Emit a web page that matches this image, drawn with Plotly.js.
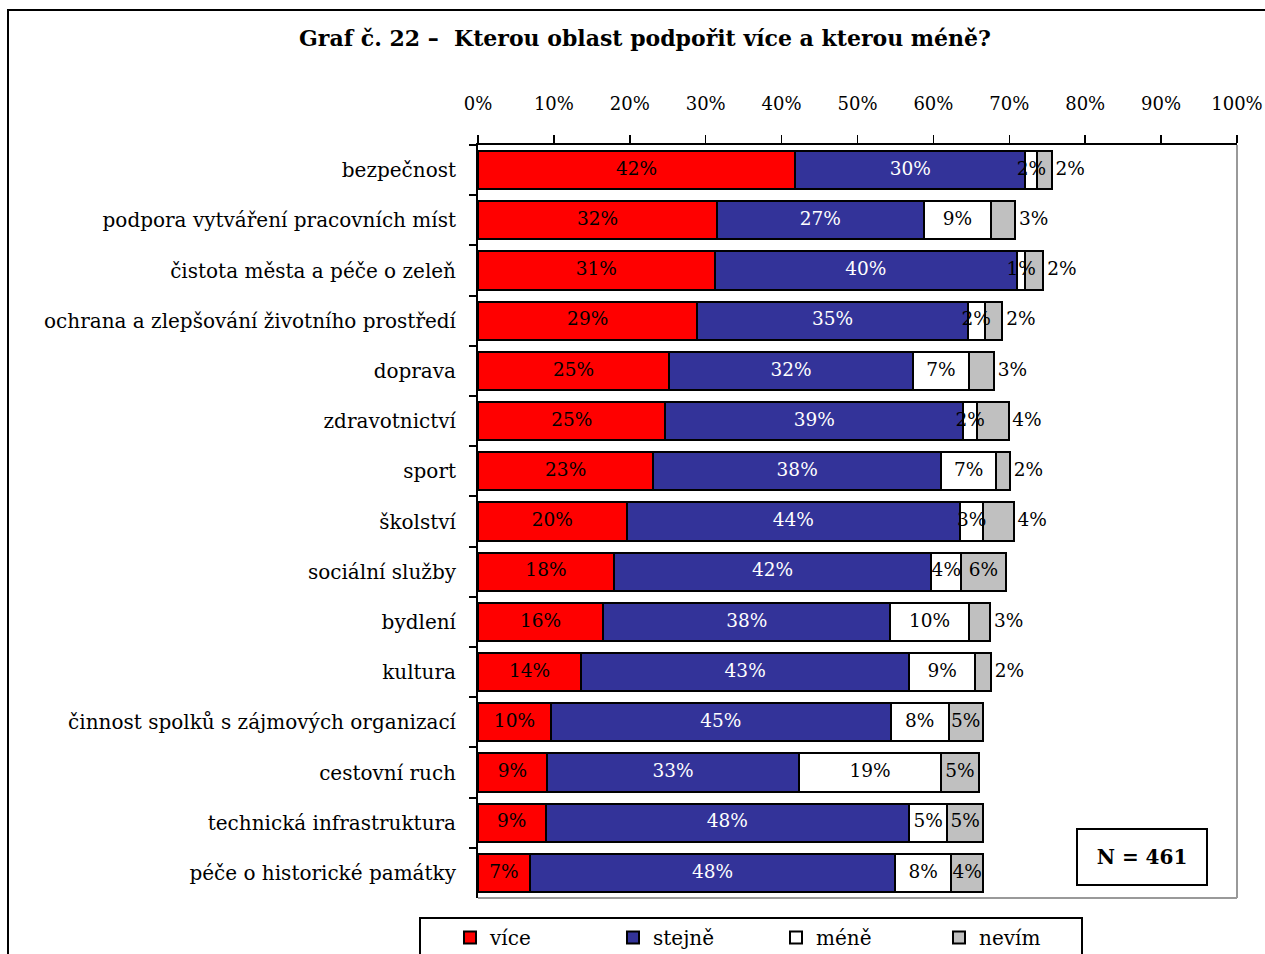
<!DOCTYPE html>
<html>
<head>
<meta charset="utf-8">
<script src="https://cdn.plot.ly/plotly-3.0.1.min.js"></script>
<style>
  html, body { margin: 0; padding: 0; background: #fff; }
  #chart { width: 1265px; height: 954px; }
</style>
</head>
<body>
<div id="chart"></div>
<script>
// ---- data ----
const categories = [
  'bezpečnost',
  'podpora vytváření pracovních míst',
  'čistota města a péče o zeleň',
  'ochrana a zlepšování životního prostředí',
  'doprava',
  'zdravotnictví',
  'sport',
  'školství',
  'sociální služby',
  'bydlení',
  'kultura',
  'činnost spolků s zájmových organizací',
  'cestovní ruch',
  'technická infrastruktura',
  'péče o historické památky'
];
// measured bar lengths (%)
const vice   = [41.8, 31.5, 31.2, 28.9, 25.2, 24.7, 23.1, 19.6, 17.9, 16.5, 13.6, 9.6, 9.1, 8.9, 6.8];
const stejne = [30.3, 27.2, 39.8, 35.6, 32.1, 39.2, 37.9, 43.9, 41.8, 37.8, 43.2, 44.8, 33.2, 47.9, 48.2];
const mene   = [1.6, 8.9, 1.1, 2.3, 7.4, 1.9, 7.3, 3.1, 4.0, 10.4, 8.7, 7.6, 18.7, 5.0, 7.3];
const nevim  = [1.9, 3.2, 2.4, 2.3, 3.3, 4.1, 1.8, 4.0, 5.8, 2.8, 2.1, 4.5, 5.0, 4.8, 4.3];
// printed data labels (%)
const viceLbl   = [42, 32, 31, 29, 25, 25, 23, 20, 18, 16, 14, 10, 9, 9, 7];
const stejneLbl = [30, 27, 40, 35, 32, 39, 38, 44, 42, 38, 43, 45, 33, 48, 48];
const meneLbl   = [2, 9, 1, 2, 7, 2, 7, 3, 4, 10, 9, 8, 19, 5, 8];
const nevimLbl  = [2, 3, 2, 2, 3, 4, 2, 4, 6, 3, 2, 5, 5, 5, 4];
const seriesNames = ['více', 'stejně', 'méně', 'nevím'];
const xTickVals = [0, 10, 20, 30, 40, 50, 60, 70, 80, 90, 100];
const xTickText = xTickVals.map(v => v + '%');
const sampleNote = 'N = 461';

// ---- layout geometry ----
const W = 1265, H = 954;
const M = { l: 478, r: 28, t: 145, b: 56 };
const PW = W - M.l - M.r, PH = H - M.t - M.b;
const px2x = px => (px - M.l) / PW;
const px2y = py => (H - M.b - py) / PH;

const FONT = 'DejaVu Serif, Liberation Serif, serif';
const colors = ['#FF0000', '#333399', '#FFFFFF', '#C0C0C0'];
const textColors = ['#000000', '#FFFFFF', '#000000', '#000000'];
const values = [vice, stejne, mene, nevim];
const lbls = [viceLbl, stejneLbl, meneLbl, nevimLbl];
// which 'nevím' labels sit outside the bar end
const nevimOutside = [true, true, true, true, true, true, true, true,
                      false, true, true, false, false, false, false];

const barTraces = values.map((vals, i) => ({
  type: 'bar',
  orientation: 'h',
  name: seriesNames[i],
  y: categories,
  x: vals,
  marker: { color: colors[i], line: { color: '#000', width: 2 } },
  hoverinfo: 'skip'
}));

// label traces drawn on top of all bars, positioned through the data scale
const labelTraces = [];
values.forEach((vals, i) => {
  const starts = categories.map((_, k) => values.slice(0, i).reduce((s, arr) => s + arr[k], 0));
  const idxIn = [], idxOut = [];
  categories.forEach((_, k) => {
    if (i === 3 && nevimOutside[k]) idxOut.push(k); else idxIn.push(k);
  });
  labelTraces.push({
    type: 'scatter', mode: 'text', showlegend: false, hoverinfo: 'skip', cliponaxis: false,
    y: idxIn.map(k => categories[k]),
    x: idxIn.map(k => starts[k] + vals[k] / 2),
    text: idxIn.map(k => lbls[i][k] + '%'),
    textposition: 'middle center',
    textfont: { family: FONT, size: 18.5, color: textColors[i] }
  });
  if (idxOut.length) {
    labelTraces.push({
      type: 'scatter', mode: 'text', showlegend: false, hoverinfo: 'skip', cliponaxis: false,
      y: idxOut.map(k => categories[k]),
      x: idxOut.map(k => starts[k] + vals[k]),
      text: idxOut.map(k => '\u2009' + lbls[i][k] + '%'),
      textposition: 'middle right',
      textfont: { family: FONT, size: 18.5, color: '#000' }
    });
  }
});

const layout = {
  width: W, height: H,
  margin: { l: M.l, r: M.r, t: M.t, b: M.b, pad: 0, autoexpand: false },
  paper_bgcolor: '#fff', plot_bgcolor: '#fff',
  barmode: 'stack', bargap: 0.24,
  font: { family: FONT, color: '#000', size: 20 },
  showlegend: true,
  title: {
    text: '<b>Graf č. 22 –  Kterou oblast podpořit více a kterou méně?</b>',
    font: { family: FONT, size: 22, color: '#000' },
    xref: 'container', x: 645 / W, xanchor: 'center',
    yref: 'container', y: 1 - 38 / H, yanchor: 'middle'
  },
  xaxis: {
    side: 'top', range: [0, 100], tickmode: 'array', tickvals: xTickVals, ticktext: xTickText,
    ticks: 'outside', ticklen: 8, tickwidth: 1.5, tickcolor: '#000',
    showline: true, linecolor: '#000', linewidth: 2,
    showgrid: false, zeroline: false, fixedrange: true,
    tickfont: { family: FONT, size: 18, color: '#000' },
    ticklabelstandoff: 18
  },
  yaxis: {
    type: 'category', categoryorder: 'array', categoryarray: categories,
    autorange: false, range: [categories.length - 0.5, -0.5],
    ticks: 'outside', tickson: 'boundaries', ticklen: 7, tickwidth: 2, tickcolor: '#000',
    showline: true, linecolor: '#000', linewidth: 2,
    showgrid: false, zeroline: false, fixedrange: true,
    tickfont: { family: FONT, size: 20, color: '#000' },
    ticklabelstandoff: 16
  },
  legend: {
    orientation: 'h', x: px2x(450), xanchor: 'left', y: px2y(918), yanchor: 'top',
    borderwidth: 0, bgcolor: 'rgba(0,0,0,0)',
    font: { family: FONT, size: 20, color: '#000' },
    entrywidth: 118, entrywidthmode: 'pixels', traceorder: 'normal'
  },
  shapes: [
    { type: 'line', xref: 'paper', yref: 'paper', x0: 1, x1: 1, y0: 0, y1: 1,
      line: { color: '#999', width: 2 } },
    { type: 'line', xref: 'paper', yref: 'paper', x0: 0, x1: 1, y0: 0, y1: 0,
      line: { color: '#999', width: 2 } },
    { type: 'rect', xref: 'paper', yref: 'paper', x0: px2x(8), x1: px2x(1275), y0: px2y(965), y1: px2y(10),
      line: { color: '#000', width: 2 }, fillcolor: 'rgba(0,0,0,0)', layer: 'below' },
    { type: 'rect', xref: 'paper', yref: 'paper', x0: px2x(420), x1: px2x(1082), y0: px2y(965), y1: px2y(918),
      line: { color: '#000', width: 2 }, fillcolor: 'rgba(0,0,0,0)', layer: 'below' }
  ],
  annotations: [
    { text: '<b>' + sampleNote + '</b>', xref: 'paper', yref: 'paper',
      x: px2x(1142), y: px2y(857), xanchor: 'center', yanchor: 'middle',
      showarrow: false, width: 128, height: 54, borderpad: 0,
      bordercolor: '#000', borderwidth: 2, bgcolor: '#fff',
      font: { family: FONT, size: 20, color: '#000' } }
  ]
};

Plotly.newPlot('chart', barTraces.concat(labelTraces), layout, { displayModeBar: false, staticPlot: true });
</script>
</body>
</html>
